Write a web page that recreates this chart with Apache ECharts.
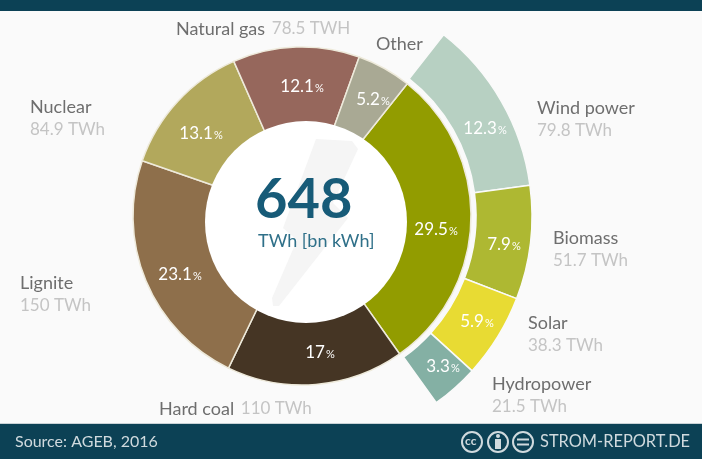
<!DOCTYPE html>
<html style="height: 100%">
<head>
<meta charset="utf-8">
</head>
<body style="height: 100%; margin: 0; background: #fafafa">
<div id="container" style="width:702px;height:459px"></div>
<script src="https://cdn.jsdelivr.net/npm/echarts@6/dist/echarts.min.js"></script>
<script>
var total = 648;
// main ring, clockwise from the renewables
var mainNames = ['Renewables', 'Hard coal', 'Lignite', 'Nuclear', 'Natural gas', 'Other'];
var mainTwh = [191.3, 110, 150, 84.9, 78.5, 33.7];
var mainPct = ['29.5', '17', '23.1', '13.1', '12.1', '5.2'];
var mainColors = ['#929c00', '#453524', '#8e6f4b', '#b2a85c', '#96675c', '#a9a994'];
// outer ring, the renewables split up
var renewNames = ['Wind power', 'Biomass', 'Solar', 'Hydropower'];
var renewTwh = [79.8, 51.7, 38.3, 21.5];
var renewPct = ['12.3', '7.9', '5.9', '3.3'];
var renewColors = ['#b7d0c2', '#aeb832', '#e8db33', '#84b0a4'];

var labelNames = ['Natural gas', 'Other', 'Wind power', 'Biomass', 'Solar', 'Hydropower', 'Nuclear', 'Lignite', 'Hard coal'];
var labelValues = ['78.5 TWH', '', '79.8 TWh', '51.7 TWh', '38.3 TWh', '21.5 TWh', '84.9 TWh', '150 TWh', '110 TWh'];

var FONT = 'Lato';
var cx = 302, cy = 216;
var TEXT = '#d0dade';

// where the percent labels sit
var mainPctPos = [[436, 230], [320, 353], [180, 275], [201, 134], [302, 87], [373, 100]];
var renewPctPos = [[485, 129], [504, 245], [477, 322], [443, 367]];

var myChart = echarts.init(document.getElementById('container'), null, {renderer: 'canvas'});

var pctLabel = {
    show: true,
    position: 'inside',
    formatter: function (p) { return '{n|' + p.data.pct + '}{u|%}'; },
    rich: {
        n: {fontFamily: FONT, fontSize: 17, color: '#fff'},
        u: {fontFamily: FONT, fontSize: 11, color: '#fff', padding: [3, 0, 0, 1]}
    }
};

function placeLabels(pos) {
    return function (params) {
        var p = pos[params.dataIndex];
        if (!p) return {};
        return {x: p[0], y: p[1], align: 'center', verticalAlign: 'middle'};
    };
}

var mainData = mainNames.map(function (n, i) {
    return {name: n, value: mainTwh[i], pct: mainPct[i], itemStyle: {color: mainColors[i]}};
});
var renewData = renewNames.map(function (n, i) {
    return {name: n, value: renewTwh[i], pct: renewPct[i], itemStyle: {color: renewColors[i]}};
});
// rest of the circle stays empty
renewData.push({
    name: 'rest', value: total - 191.3, pct: '',
    itemStyle: {color: 'transparent', borderWidth: 0},
    label: {show: false}, emphasis: {disabled: true}
});

// text blocks next to the chart
var textPos = [
    [176, 20], [376, 35], [537, 99], [553, 229], [528, 314], [492, 375], [30, 98], [20, 274], [159, 400]
];
var texts = [];
labelNames.forEach(function (n, i) {
    // one line for the top and bottom labels, two for the sides
    var inline = n === 'Natural gas' || n === 'Hard coal';
    texts.push({
        type: 'text', left: textPos[i][0], top: textPos[i][1], z: 10,
        style: {
            text: '{a|' + n + '}' + (labelValues[i] ? (inline ? '  ' : '\n') + '{b|' + labelValues[i] + '}' : ''),
            rich: {
                a: {fontFamily: FONT, fontSize: 18, fill: '#6e6e6e', color: '#6e6e6e', lineHeight: 23},
                b: {fontFamily: FONT, fontSize: 17, fill: '#c4c4c4', color: '#c4c4c4', lineHeight: 23}
            }
        }
    });
});

var option = {
    backgroundColor: '#fafafa',
    animation: false,
    series: [
        {
            type: 'pie', center: [cx, cy], radius: [85, 169], startAngle: 51.5, clockwise: true,
            silent: true, data: mainData, label: pctLabel, labelLine: {show: false},
            labelLayout: placeLabels(mainPctPos),
            itemStyle: {borderColor: '#eeeadb', borderWidth: 1.5}
        },
        {
            type: 'pie', center: [cx, cy], radius: [174, 230], startAngle: 52, clockwise: true,
            silent: true, data: renewData, label: pctLabel, labelLine: {show: false},
            labelLayout: placeLabels(renewPctPos),
            itemStyle: {borderColor: '#fafafa', borderWidth: 1.5}
        }
    ],
    graphic: [
        {type: 'rect', shape: {x: 0, y: 0, width: 702, height: 11}, style: {fill: '#0c4155'}},
        {type: 'rect', shape: {x: 0, y: 423, width: 702, height: 36}, style: {fill: '#0c4155'}},
        {type: 'rect', shape: {x: 0, y: 423, width: 702, height: 1}, style: {fill: '#c9d2d6'}},
        // the hole sits a little off the ring's centre, as in the original
        {type: 'circle', shape: {cx: 306, cy: 222, r: 101}, style: {fill: '#fff'}, z: 5},
        {
            type: 'polygon', z: 6,
            shape: {points: [[316, 139], [352, 141], [358, 149], [333, 203], [348, 218], [279, 306], [273, 306], [272, 298], [297, 240], [283, 228]]},
            style: {fill: '#f5f5f5'}
        },
        {type: 'text', left: 255, top: 172, z: 10, style: {text: '648', fontFamily: FONT, fontSize: 56, fontWeight: 'bold', fill: '#175b78'}},
        {type: 'text', left: 258, top: 232, z: 10, style: {text: 'TWh [bn kWh]', fontFamily: FONT, fontSize: 18, fill: '#2f7089'}},
        {type: 'text', left: 15, top: 434, style: {text: 'Source: AGEB, 2016', fontFamily: FONT, fontSize: 16, fill: TEXT}},
        {type: 'text', left: 540, top: 434, style: {text: 'STROM-REPORT.DE', fontFamily: FONT, fontSize: 16.4, fill: TEXT}},
        {type: 'circle', shape: {cx: 472, cy: 442, r: 10}, style: {fill: 'none', stroke: TEXT, lineWidth: 2}},
        {type: 'text', left: 465, top: 435, style: {text: 'cc', fontFamily: FONT, fontSize: 12, fontWeight: 'bold', fill: TEXT}},
        {type: 'circle', shape: {cx: 498, cy: 442, r: 10}, style: {fill: 'none', stroke: TEXT, lineWidth: 2}},
        {type: 'circle', shape: {cx: 498, cy: 436, r: 2}, style: {fill: TEXT}},
        {type: 'rect', shape: {x: 495, y: 439, width: 6, height: 10}, style: {fill: TEXT}},
        {type: 'circle', shape: {cx: 523, cy: 442, r: 10}, style: {fill: 'none', stroke: TEXT, lineWidth: 2}},
        {type: 'rect', shape: {x: 517, y: 438.5, width: 12, height: 2}, style: {fill: TEXT}},
        {type: 'rect', shape: {x: 517, y: 443.5, width: 12, height: 2}, style: {fill: TEXT}}
    ].concat(texts)
};

myChart.setOption(option);
</script>
</body>
</html>
